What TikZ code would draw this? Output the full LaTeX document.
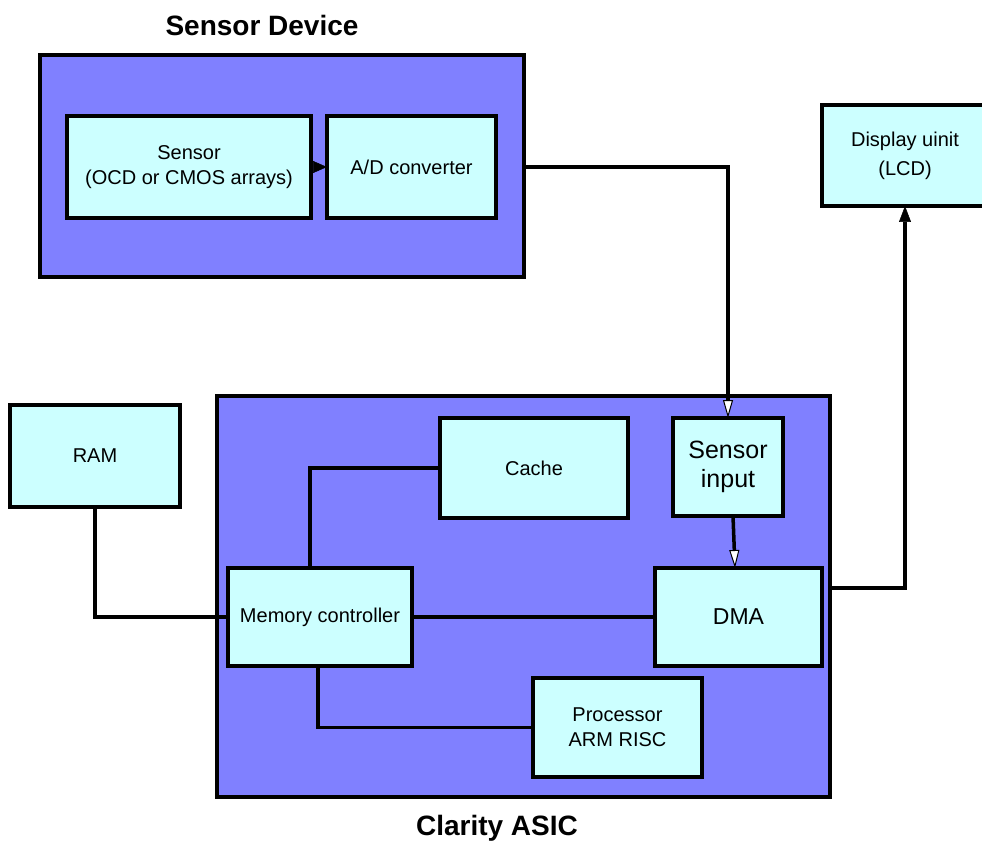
\documentclass[tikz,border=0pt]{standalone}
\usepackage{fontspec}
\setmainfont{Liberation Sans}
\usetikzlibrary{arrows.meta}
\definecolor{outerblue}{HTML}{8080FF}
\definecolor{innercyan}{HTML}{CCFFFF}
\begin{document}
\begin{tikzpicture}[x=1pt,y=-1pt,
  box/.style={draw=black,line width=4pt,fill=innercyan,inner sep=0pt,outer sep=0pt,align=center,font=\fontsize{20}{25}\selectfont},
  group/.style={draw=black,line width=4pt,fill=outerblue,inner sep=0pt,outer sep=0pt},
  wire/.style={line width=3.5pt},
  title/.style={font=\bfseries\fontsize{28}{32}\selectfont}]
\useasboundingbox (0,0) rectangle (982,842);
% groups
\node[group,minimum width=484pt,minimum height=222pt] (sd) at (282,166) {};
\node[group,minimum width=613pt,minimum height=401pt] (asic) at (523.5,596.5) {};
\node[title] (sdt) at (262,25) {Sensor Device};
\node[title] (asict) at (497,828) {Clarity ASIC};
% boxes
\node[box,minimum width=244pt,minimum height=102pt] (sensor) at (189,167) {Sensor\\(OCD or CMOS arrays)};
\node[box,minimum width=169pt,minimum height=102pt] (ad) at (411.5,167) {A/D converter};
\node[box,minimum width=166pt,minimum height=101pt,font=\fontsize{20}{29}\selectfont] (disp) at (905,155.5) {Display uinit\\(LCD)};
\node[box,minimum width=170pt,minimum height=102pt] (ram) at (95,456) {RAM};
\node[box,minimum width=188pt,minimum height=100pt] (cache) at (534,468) {Cache};
\node[box,minimum width=110pt,minimum height=98pt,font=\fontsize{25}{29}\selectfont] (sin) at (728,467) {Sensor\\input};
\node[box,minimum width=184pt,minimum height=98pt] (mc) at (320,617) {Memory controller};
\node[box,minimum width=167pt,minimum height=98pt,font=\fontsize{23}{28}\selectfont] (dma) at (738.5,617) {DMA};
\node[box,minimum width=169pt,minimum height=99pt] (proc) at (617.5,727.5) {Processor\\ARM RISC};
% connectors
\draw[wire,-{Triangle[length=14pt,width=12pt,line width=0.5pt]}] (sensor.east) -- (ad.west);
\draw[wire,-{Triangle[fill=white,length=18pt,width=10pt,line width=1pt]}] (ad.east -| sd.east) -| (sin.north);
\draw[wire,-{Triangle[fill=white,length=18pt,width=10pt,line width=1pt]}] ([xshift=5pt]sin.south) -- ([xshift=-3.5pt]dma.north);
\draw[wire,-{Triangle[length=16pt,width=12pt,line width=0.5pt]}] ([yshift=29pt]dma.east -| asic.east) -| (disp.south);
\draw[wire] (ram.south) |- (mc.west);
\draw[wire] ([xshift=-10pt]mc.north) |- (cache.west);
\draw[wire] (mc.east) -- (mc.east -| dma.west);
\draw[wire] ([xshift=-2pt]mc.south) |- (proc.west);
\end{tikzpicture}
\end{document}
